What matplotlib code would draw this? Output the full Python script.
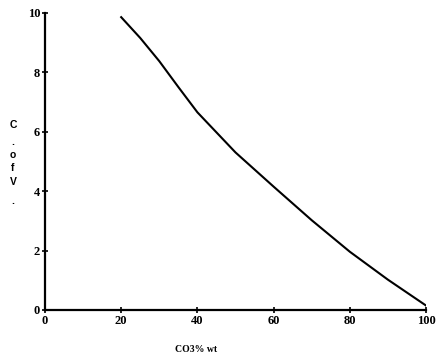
import matplotlib
matplotlib.use('Agg')
import matplotlib.pyplot as plt

# CO3 content (% wt) and coefficient of variation
co3_wt = [20, 25, 30, 35, 40, 50, 60, 70, 80, 90, 100]
cov = [9.85, 9.15, 8.37, 7.5, 6.65, 5.3, 4.15, 3.02, 1.96, 1.02, 0.15]

x_ticks = [0, 20, 40, 60, 80, 100]
y_ticks = [0, 2, 4, 6, 8, 10]
y_label_chars = ['C', '.', 'o', 'f', 'V', '.']


def main():
    fig = plt.figure(figsize=(4.38, 3.57), dpi=100)
    ax = fig.add_axes([0.1027, 0.1317, 0.8699, 0.8327])

    ax.plot(co3_wt, cov, color='black', linewidth=1.5)

    ax.set_xlim(0, 100)
    ax.set_ylim(0, 10)
    ax.set_xticks(x_ticks)
    ax.set_yticks(y_ticks)
    ax.spines['top'].set_visible(False)
    ax.spines['right'].set_visible(False)
    ax.spines['left'].set_linewidth(1.6)
    ax.spines['bottom'].set_linewidth(1.6)
    ax.tick_params(direction='inout', length=5, width=1.2, labelsize=9, pad=1)
    for lbl in ax.get_xticklabels() + ax.get_yticklabels():
        lbl.set_fontweight('bold')
        lbl.set_family('Liberation Serif')

    # x label sits left of center in the original
    fig.text(196 / 438, 1 - 350 / 357, 'CO3% wt', ha='center', va='center',
             fontsize=7, fontweight='bold', family='Liberation Serif')

    # stacked y label
    y_pos = [125, 142, 155, 168, 182, 201]
    for ch, yp in zip(y_label_chars, y_pos):
        fig.text(13 / 438, 1 - yp / 357, ch, ha='center', va='center',
                 fontsize=7.5, fontweight='bold', family='Liberation Sans')

    fig.savefig('out.png', dpi=100, facecolor='white')
    plt.close(fig)


if __name__ == '__main__':
    main()
